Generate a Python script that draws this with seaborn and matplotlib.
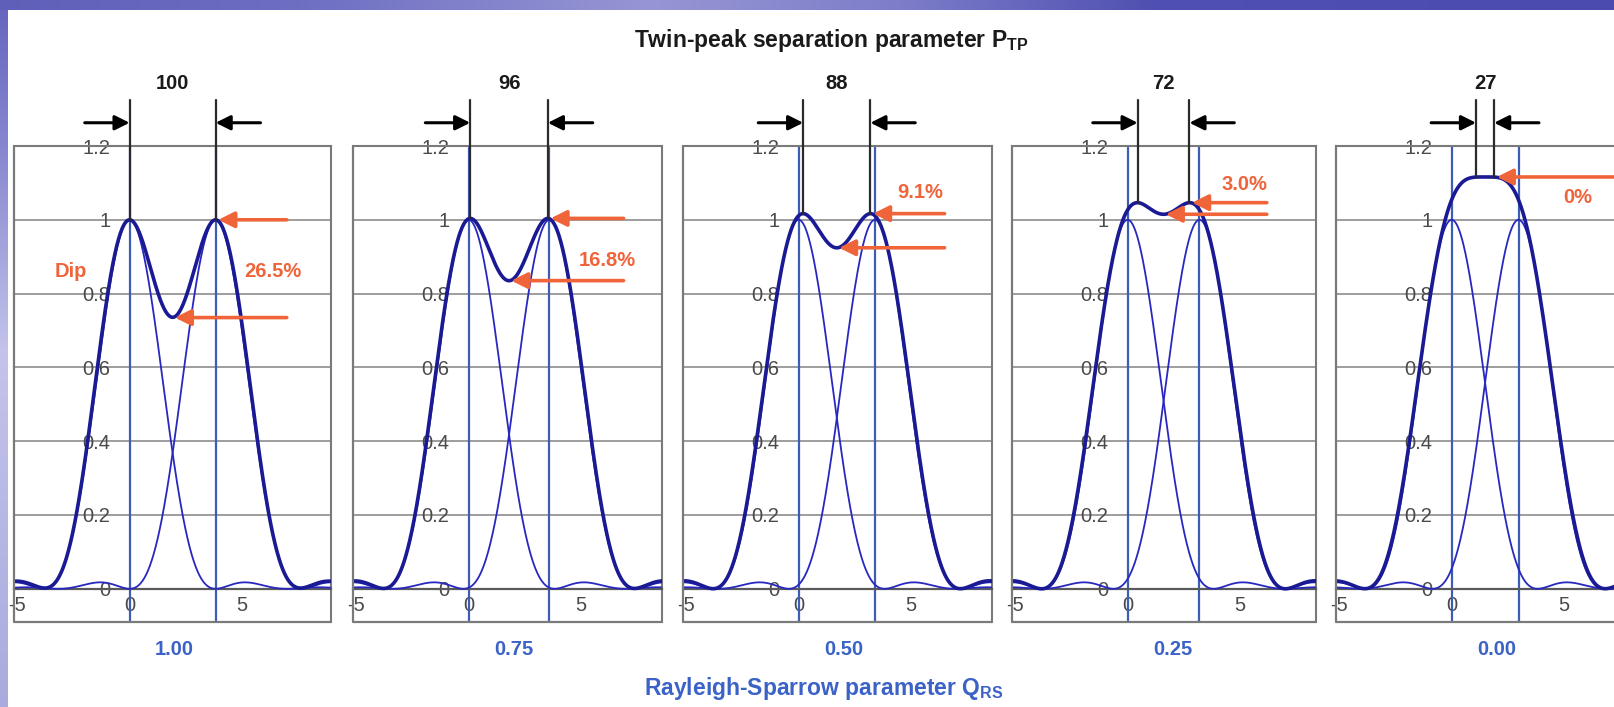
import numpy as np
import pandas as pd
import matplotlib
matplotlib.use("Agg")
import matplotlib.pyplot as plt
import seaborn as sns

# ---- values shown in the figure ----
q_rs_labels = ["1.00", "0.75", "0.50", "0.25", "0.00"]
p_tp_values = [100, 96, 88, 72, 27]
dip_percent = [26.5, 16.8, 9.1, 3.0, 0.0]
dip_labels = ["26.5%", "16.8%", "9.1%", "3.0%", "0%"]
# spacing of the two Airy peaks in each panel (optical units)
separations = [3.83, 3.60, 3.40, 3.20, 2.98]
y_ticks = [0, 0.2, 0.4, 0.6, 0.8, 1.0, 1.2]
y_tick_labels = ["0", "0.2", "0.4", "0.6", "0.8", "1", "1.2"]
x_ticks = [-5, 0, 5]
x_tick_labels = ["-5", "0", "5"]


def bessel_j1(x):
    tau = np.linspace(0.0, np.pi, 801)
    vals = np.cos(tau[None, :] - np.outer(x, np.sin(tau)))
    return np.trapezoid(vals, tau, axis=1) / np.pi


def airy(x):
    """Normalised Airy intensity (2 J1(x) / x)^2."""
    x = np.atleast_1d(np.asarray(x, float))
    out = np.ones_like(x)
    nz = np.abs(x) > 1e-9
    out[nz] = (2.0 * bessel_j1(x[nz]) / x[nz]) ** 2
    return out


sns.set_theme(style="white")
plt.rcParams["font.family"] = ["Liberation Sans", "DejaVu Sans"]
plt.rcParams["mathtext.fontset"] = "custom"
plt.rcParams["mathtext.rm"] = "Liberation Sans"
plt.rcParams["mathtext.bf"] = "Liberation Sans:bold"

W, H = 1614, 707
fig = plt.figure(figsize=(W / 100, H / 100), dpi=100)
fig.patch.set_facecolor("white")

# slide backdrop: purple bands along top and left edges
bg = np.ones((H, W, 3))
top_x = [0, 300, 650, 900, 1150, 1614]
top_c = np.array([[95, 95, 185], [110, 110, 195], [150, 150, 212], [125, 125, 202],
                  [80, 80, 178], [75, 75, 175]]) / 255
for k in range(3):
    bg[:10, :, k] = np.interp(np.arange(W), top_x, top_c[:, k])[None, :]
left_y = [0, 150, 350, 500, 707]
left_c = np.array([[100, 100, 190], [135, 135, 208], [195, 195, 235],
                   [185, 185, 230], [170, 170, 222]]) / 255
for k in range(3):
    bg[10:, :8, k] = np.interp(np.arange(10, H), left_y, left_c[:, k])[:, None]
bax = fig.add_axes([0, 0, 1, 1], zorder=-10)
bax.imshow(bg, aspect="auto", interpolation="bilinear")
bax.axis("off")

THIN = "#2828c0"
THICK = "#1a1a94"
VLINE = "#3d5cb4"
GRID = "#8c8c8c"
RED = "#f0643a"
BLUE_TXT = "#3b62c6"
TICK_TXT = "#4a4a4a"

x_left = -5.15
px_per_unit = 22.45
ylim = (-0.09, 1.2)

left_px = [14, 353, 683, 1012, 1336]
panel_w = [317, 309, 309, 304, 310]
top_px, bot_px = 146, 622

label_x = [6.4, 6.2, 5.4, 5.2, 5.6]
label_y = [0.86, 0.89, 1.075, 1.095, 1.06]
tail_x = [7.0, 6.9, 6.5, 6.2, 9.5]

for i, d in enumerate(separations):
    ax = fig.add_axes([left_px[i] / W, (H - bot_px) / H, panel_w[i] / W,
                       (bot_px - top_px) / H])
    ax.set_facecolor("white")
    xlim = (x_left, x_left + panel_w[i] / px_per_unit)
    x = np.linspace(xlim[0], xlim[1], 1400)
    df = pd.DataFrame({"x": x, "first": airy(x), "second": airy(x - d)})
    df["sum"] = df["first"] + df["second"]

    ax.set_xlim(*xlim)
    ax.set_ylim(*ylim)
    ax.set_yticks(y_ticks)
    ax.set_yticklabels(y_tick_labels)
    ax.set_xticks(x_ticks)
    ax.set_xticklabels(x_tick_labels)
    ax.spines["left"].set_position(("data", 0))
    ax.spines["bottom"].set_position(("data", 0))
    ax.spines["left"].set_visible(False)
    ax.spines["bottom"].set_color("#5a5a5a")
    ax.spines["bottom"].set_linewidth(1.6)
    for s in ("top", "right"):
        ax.spines[s].set_color("#7a7a7a")
        ax.spines[s].set_linewidth(1.5)
    ax.grid(axis="y", color=GRID, lw=1.2)
    ax.grid(axis="x", visible=False)
    ax.tick_params(axis="y", length=0, pad=14, labelsize=14.5, labelcolor=TICK_TXT)
    ax.tick_params(axis="x", direction="in", length=4, color="#777", pad=5,
                   labelsize=14.5, labelcolor=TICK_TXT)
    ax.plot([xlim[0], xlim[0], xlim[1]], [ylim[1], ylim[0], ylim[0]],
            color="#7a7a7a", lw=1.6, clip_on=False, zorder=5)

    ax.vlines([0, d], ylim[0], ylim[1], color=VLINE, lw=1.6, zorder=2)

    sns.lineplot(data=df, x="x", y="first", ax=ax, color=THIN, lw=1.3,
                 estimator=None, errorbar=None, zorder=3)
    sns.lineplot(data=df, x="x", y="second", ax=ax, color=THIN, lw=1.3,
                 estimator=None, errorbar=None, zorder=3)
    sns.lineplot(data=df, x="x", y="sum", ax=ax, color=THICK, lw=2.6,
                 estimator=None, errorbar=None, zorder=4)
    ax.set_xlabel("")
    ax.set_ylabel("")

    # twin-peak markers
    half = p_tp_values[i] / 100 * d / 2
    xl, xr = d / 2 - half, d / 2 + half
    for xv in (xl, xr):
        yv = np.interp(xv, df["x"], df["sum"])
        ax.plot([xv, xv], [yv, 1.325], color="#2a2a2a", lw=1.6, clip_on=False, zorder=6)
    akw = dict(arrowstyle="-|>", color="black", lw=2.2, mutation_scale=22,
               shrinkA=0, shrinkB=0)
    ax.annotate("", xy=(xl, 1.263), xytext=(xl - 2.0, 1.263), arrowprops=akw,
                annotation_clip=False)
    ax.annotate("", xy=(xr, 1.263), xytext=(xr + 2.0, 1.263), arrowprops=akw,
                annotation_clip=False)
    ax.text(d / 2, 1.37, str(p_tp_values[i]), ha="center", va="center",
            fontsize=14.5, fontweight="bold", color="#1a1a1a", clip_on=False)

    # dip arrows: peak level and dip level
    peak = df["sum"].max()
    rkw = dict(arrowstyle="-|>", color=RED, lw=2.6, mutation_scale=24,
               shrinkA=0, shrinkB=0)
    ax.annotate("", xy=(xr + 0.12, peak), xytext=(tail_x[i], peak), arrowprops=rkw,
                annotation_clip=False, zorder=7)
    if dip_percent[i] > 0:
        low = peak * (1 - dip_percent[i] / 100)
        ax.annotate("", xy=(d / 2 + 0.1, low), xytext=(tail_x[i], low), arrowprops=rkw,
                    annotation_clip=False, zorder=7)
    ax.text(label_x[i], label_y[i], dip_labels[i], ha="center", va="center",
            fontsize=14.5, fontweight="bold", color=RED, zorder=8)
    if i == 0:
        ax.text(-2.6, 0.86, "Dip", ha="center", va="center", fontsize=14.5,
                fontweight="bold", color=RED, zorder=8)

    ax.text(2.0, -0.165, q_rs_labels[i], ha="center", va="center", fontsize=14.5,
            fontweight="bold", color=BLUE_TXT, clip_on=False)

fig.text(831 / W, 1 - 40 / H, r"Twin-peak separation parameter $\mathbf{P}_{\mathbf{TP}}$",
         ha="center", va="center", fontsize=16.5, fontweight="bold", color="#1a1a1a")
fig.text(824 / W, 1 - 688 / H, r"Rayleigh-Sparrow parameter $\mathbf{Q}_{\mathbf{RS}}$",
         ha="center", va="center", fontsize=16.5, fontweight="bold", color=BLUE_TXT)

fig.savefig("out.png", dpi=100)
